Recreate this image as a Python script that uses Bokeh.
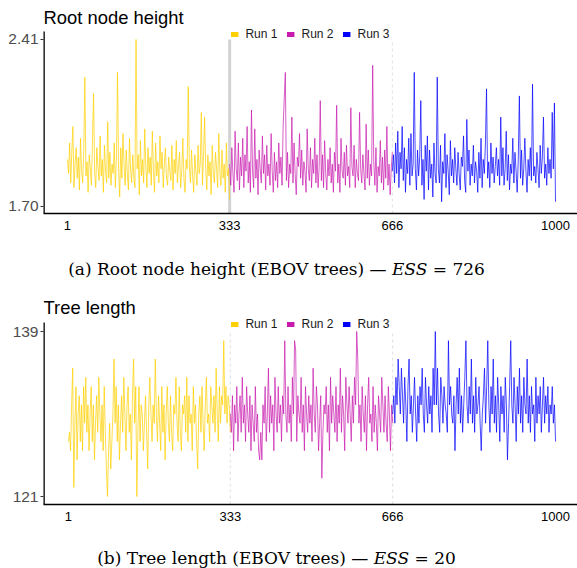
import numpy as np
from bokeh.plotting import figure
from bokeh.layouts import column
from bokeh.models import (Range1d, FixedTicker, PrintfTickFormatter, Legend, LegendItem, Div)
from bokeh.embed import file_html
from bokeh.resources import INLINE

# ---------------- data ----------------
run_names = ["Run 1", "Run 2", "Run 3"]
run_colors = ["#FFD000", "#C81AAE", "#0000FF"]
run_bounds = [1, 333, 666, 1000]
x_tick_values = [1, 333, 666, 1000]

root_run1 = [1.90,1.84,1.97,1.80,1.93,2.04,1.78,1.88,1.95,1.82,
             1.91,1.77,1.99,1.85,1.80,1.94,2.25,1.83,1.89,1.76,
             1.92,1.86,1.79,1.98,2.18,1.84,1.78,1.95,1.87,1.81,
             2.00,1.83,1.90,1.76,1.96,1.85,1.80,2.06,1.82,1.93,
             1.79,1.88,1.84,1.97,1.78,1.91,2.27,1.86,1.74,1.95,
             1.82,2.01,1.88,1.79,1.94,1.84,1.77,1.99,1.86,1.80,
             1.92,1.83,1.78,2.41,1.86,1.92,1.75,1.98,1.83,1.90,
             1.80,2.03,1.87,1.78,1.95,1.84,1.91,1.79,2.02,1.85,
             1.76,1.97,1.83,1.89,1.80,2.00,1.86,1.93,1.78,1.88,
             1.95,1.82,1.79,1.91,1.85,1.81,1.96,1.77,1.90,1.84,
             1.98,1.80,1.87,1.93,1.78,1.85,1.99,1.82,1.76,1.90,
             1.86,2.21,1.87,1.80,1.94,1.83,1.76,1.92,1.85,1.79,
             1.96,1.84,1.88,2.10,1.79,1.91,2.08,1.86,1.77,1.92,
             1.83,1.89,1.75,1.96,1.84,1.80,1.93,1.86,1.78,2.01,
             1.85,1.79,1.94,1.82,1.88,1.76,1.97,1.83,1.86,1.73]
root_run2 = [1.88,1.79,1.95,1.84,1.76,2.02,1.86,1.81,1.97,1.77,
             1.91,1.83,1.99,1.78,1.92,1.85,2.04,1.80,1.89,1.76,
             2.11,1.85,1.78,2.03,1.82,1.90,1.75,1.94,1.86,1.80,
             2.00,1.84,1.92,1.77,1.96,1.83,1.88,1.79,2.01,1.85,
             1.76,1.93,1.81,1.89,1.78,1.97,1.84,1.91,1.79,2.04,
             2.16,2.27,1.81,1.93,1.78,1.88,1.84,2.08,1.80,1.97,
             1.84,1.75,1.91,1.87,2.01,1.82,1.94,1.79,1.89,1.85,
             1.76,2.03,1.86,1.81,1.95,1.78,1.90,1.84,1.99,1.80,
             1.92,1.78,1.87,2.15,1.81,1.92,1.78,1.98,1.84,1.77,
             1.90,1.83,1.95,1.80,1.88,1.76,1.93,1.85,2.13,1.80,
             1.88,1.76,1.99,1.85,1.82,1.93,1.79,1.96,1.83,1.87,
             1.78,2.12,1.87,1.83,1.96,1.78,1.90,1.84,1.81,2.10,
             1.86,1.80,1.92,1.84,1.77,2.05,1.82,1.94,1.79,1.88,
             1.83,2.30,1.89,1.79,1.95,1.76,1.87,1.83,1.98,1.80,
             1.91,1.77,1.94,1.82,2.04,1.79,1.88,1.75,1.86,1.93]
root_run3 = [1.85,1.92,1.80,1.97,1.84,2.02,1.78,1.93,1.86,2.04,
             1.81,1.95,1.76,1.90,1.84,1.99,1.79,2.01,1.83,1.88,
             2.27,1.86,1.77,1.94,1.83,1.91,2.15,1.79,1.90,1.73,
             1.96,1.85,2.00,1.77,1.94,1.82,1.88,1.74,1.97,1.84,
             1.80,2.25,1.86,1.80,1.96,1.72,1.89,1.84,2.01,1.78,
             1.92,1.85,1.75,1.98,1.83,1.90,1.80,1.95,1.86,1.79,
             1.93,1.84,1.77,1.91,1.87,2.00,1.81,1.76,2.07,1.85,
             1.94,1.79,1.88,1.83,1.96,1.80,1.89,1.85,1.76,1.93,
             1.82,1.99,1.78,1.90,1.84,1.97,2.20,1.82,1.89,1.78,
             1.97,1.84,1.91,1.80,1.87,1.95,1.83,1.90,1.79,2.08,
             1.83,1.95,1.79,1.86,2.02,1.81,1.92,1.77,1.88,1.84,
             1.99,1.80,1.93,1.85,1.76,1.90,2.17,1.82,1.94,1.79,
             1.86,1.99,1.85,1.76,1.90,1.83,1.95,1.81,2.22,1.83,
             1.87,1.80,1.93,1.86,1.78,1.96,1.84,1.91,2.08,1.82,
             1.88,1.79,1.95,1.84,1.90,1.82,2.10,1.86,2.14,1.72]

tree_run1 = [127,128,126,131,135,122,129,133,125,130,
             132,127,131,126,133,129,134,128,131,126,
             130,133,127,131,125,129,132,128,134,130,
             127,131,126,133,128,124,121,126,129,124,
             127,130,136,129,133,127,131,125,129,132,
             128,134,130,126,131,133,128,130,125,132,
             136,129,133,121,128,133,127,131,130,126,
             129,132,128,124,131,134,130,127,131,129,
             136,130,127,132,129,126,133,128,131,125,
             130,133,129,127,132,128,126,131,130,134,
             129,127,133,128,126,131,130,132,128,134,
             127,132,129,130,126,133,129,131,127,124,
             130,132,128,133,129,126,131,134,129,130,
             127,133,131,129,132,128,135,130,127,133,
             129,132,131,138,130,133,129,132,131,128]
tree_run2 = [130,128,132,126,131,129,133,127,130,132,
             128,134,129,131,127,133,130,128,132,126,
             131,129,127,133,128,130,126,125,128,125,
             131,129,133,127,130,135,128,132,129,131,
             126,134,130,128,133,129,131,127,132,130,
             138,130,128,133,129,131,127,134,130,138,
             137,127,132,130,129,134,128,131,126,133,
             130,128,132,129,131,127,135,130,128,133,
             131,126,129,132,123,128,131,130,133,128,
             131,126,134,129,132,130,128,133,127,131,
             129,135,128,132,130,126,134,131,129,133,
             130,127,132,129,134,131,139,136,129,131,
             127,133,130,128,132,126,131,134,129,130,
             127,133,128,131,129,126,132,130,128,134,
             131,128,132,129,127,133,130,126,131,129]
tree_run3 = [130,132,129,134,131,136,133,130,135,132,
             129,134,131,127,133,136,130,132,128,131,
             134,130,127,132,129,133,131,135,130,128,
             134,131,129,133,130,132,128,135,131,139,
             131,135,130,128,134,132,129,133,131,130,
             128,138,131,133,130,129,132,126,131,134,
             130,135,129,132,128,131,134,138,131,129,
             133,130,136,129,132,128,134,130,131,133,
             129,126,130,132,135,129,133,138,131,128,
             133,130,136,129,132,128,134,131,127,133,
             130,132,128,134,131,125,129,133,138,131,
             129,134,131,127,133,130,135,129,132,128,
             134,131,130,136,129,132,128,133,130,131,
             127,134,129,132,130,133,128,131,134,129,
             132,130,133,128,131,130,133,129,131,127]

root_ticks = [1.70, 2.41]
tree_ticks = [121, 139]

FONT = "Liberation Sans"


def make_panel(title, runs, yticks, yfmt, y_range, axis_top, x_range,
               left, top, bottom, height, boundary_styles):
    p = figure(width=577, height=height, output_backend="svg", toolbar_location=None,
               x_range=Range1d(*x_range), y_range=Range1d(*y_range),
               min_border_left=left, min_border_right=0, min_border_top=top,
               min_border_bottom=bottom)
    p.outline_line_color = None
    p.xgrid.visible = False
    p.ygrid.visible = False
    p.background_fill_color = "white"
    p.border_fill_color = "white"

    p.title.text = title
    p.title.align = "left"
    p.title.offset = 0
    p.title.standoff = 0
    p.title.text_font = FONT
    p.title.text_font_style = "normal"
    p.title.text_font_size = "18.4px"
    p.title.text_color = "#000000"

    # run boundary guides
    for b, (col, w, dash) in zip(run_bounds[1:3], boundary_styles):
        p.segment(x0=[b], x1=[b], y0=[y_range[0]], y1=[yticks[-1]], line_color=col,
                  line_width=w, line_dash=dash)

    items = []
    far = x_range[0] - 10 * (x_range[1] - x_range[0])
    for i, vals in enumerate(runs):
        xs = np.linspace(run_bounds[i], run_bounds[i + 1], len(vals))
        ys = np.array(vals, dtype=float)
        p.segment(x0=xs[:-1], x1=xs[1:], y0=ys[:-1], y1=ys[1:], line_color=run_colors[i],
                  line_alpha=0.7, line_width=1)
        # off-screen proxy used only for the legend swatch
        proxy = p.line([far, far], [yticks[0], yticks[0]], line_color=run_colors[i], line_width=5)
        items.append(LegendItem(label=run_names[i], renderers=[proxy]))

    legend = Legend(items=items, orientation="horizontal", location="top_center",
                    background_fill_alpha=0, border_line_color=None, padding=0, margin=0,
                    spacing=9, glyph_width=8, glyph_height=10, label_standoff=7,
                    label_text_font=FONT, label_text_font_size="12px",
                    label_text_color="#1a1a1a", label_height=12)
    p.add_layout(legend, "center")

    # y axis line (drawn so it starts slightly below the frame top)
    p.segment(x0=[x_range[0]], x1=[x_range[0]], y0=[y_range[0]], y1=[axis_top],
              line_color="#000000", line_width=2.6)

    # axes
    p.xaxis.ticker = FixedTicker(ticks=x_tick_values)
    p.xaxis.minor_tick_line_color = None
    p.xaxis.major_tick_line_color = None
    p.xaxis.major_tick_out = 0
    p.xaxis.major_label_standoff = 7
    p.xaxis.major_label_text_font = FONT
    p.xaxis.major_label_text_font_size = "13px"
    p.xaxis.major_label_text_color = "#000000"
    p.xaxis.axis_line_color = "#000000"
    p.xaxis.axis_line_width = 1.3

    p.yaxis.ticker = FixedTicker(ticks=yticks)
    p.yaxis.formatter = PrintfTickFormatter(format=yfmt)
    p.yaxis.minor_tick_line_color = None
    p.yaxis.major_tick_in = 0
    p.yaxis.major_tick_out = 3
    p.yaxis.major_tick_line_color = "#333333"
    p.yaxis.major_label_standoff = 2
    p.yaxis.major_label_text_font = FONT
    p.yaxis.major_label_text_font_size = "15.5px"
    p.yaxis.major_label_text_color = "#4d4d4d"
    p.yaxis.axis_line_color = None
    return p


p1 = make_panel("Root node height", [root_run1, root_run2, root_run3], root_ticks, "%.2f",
                (1.670, 2.461), 2.444, (-48, 1045), 43, 27, 27, 240,
                [("#d3d3d3", 3, "solid"), ("#e0e0e0", 1, "3 3")])
p2 = make_panel("Tree length", [tree_run1, tree_run2, tree_run3], tree_ticks, "%d",
                (120.13, 140.53), 139.98, (-50, 1045), 38, 27, 26, 240,
                [("#dddddd", 1, "3 3"), ("#dddddd", 1, "3 3")])

cap_style = ("width:565px;text-align:center;font-family:'DejaVu Serif';font-size:17px;"
             "color:#000;padding-right:12px;")
d1 = Div(text='<div style="' + cap_style + 'padding-top:17px;">(a) Root node height (EBOV trees) &mdash; <i>ESS</i> = 726</div>',
         width=577, height=50, margin=0)
d2 = Div(text='<div style="' + cap_style + 'padding-top:16px;">(b) Tree length (EBOV trees) &mdash; <i>ESS</i> = 20</div>',
         width=577, height=38, margin=0)

layout = column(p1, d1, p2, d2, spacing=0)
open("out.html", "w").write(file_html(layout, INLINE))
